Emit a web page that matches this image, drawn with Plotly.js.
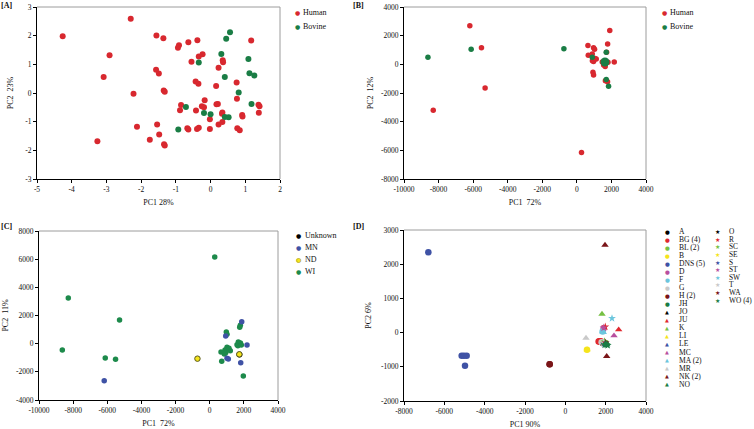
<!DOCTYPE html>
<html><head><meta charset="utf-8">
<script src="https://cdn.plot.ly/plotly-3.0.1.min.js"></script>
<style>html,body{margin:0;padding:0;background:#fff}#chart{width:754px;height:429px}</style>
</head><body><div id="chart"></div>
<script>
// ---------- Panel A ----------
const humanAX = [-4.26,-2.30,-2.91,-3.08,-2.22,-2.12,-3.26,-1.56,-1.36,-1.57,-1.49,-1.35,-1.32,-1.54,-1.48,-1.75,-1.34,-1.32,-0.91,-0.94,-0.64,-0.38,-0.55,-0.34,-0.23,-0.43,-0.35,-0.85,-0.88,-0.42,-0.17,-0.25,-0.19,-0.67,-0.64,-0.34,-0.39,-0.02,-0.02,0.23,0.16,0.17,0.21,0.34,0.23,0.35,0.36,0.34,0.33,0.75,0.76,0.77,0.84,0.91,0.92,1.17,1.38,1.41,1.39];
const humanAY = [1.98,2.59,1.32,0.56,-0.03,-1.18,-1.68,2.01,1.91,0.81,0.68,0.09,0.04,-1.10,-1.45,-1.63,-1.79,-1.83,1.67,1.58,1.77,1.84,1.09,1.27,1.35,0.40,0.32,-0.42,-0.60,-0.61,-0.25,-0.46,-0.50,-1.23,-1.27,-1.21,-1.26,-0.92,-1.26,0.88,0.24,-0.39,-0.38,-1.01,-1.10,1.14,1.07,-0.68,-0.72,0.37,-0.20,-1.23,-1.30,-0.77,-0.82,1.83,-0.41,-0.46,-0.69];
const bovineAX = [0.56,0.45,0.31,-0.34,1.09,1.12,1.26,0.41,0.81,1.18,-0.71,-0.19,0.00,0.41,0.52,-0.93];
const bovineAY = [2.12,1.89,1.36,1.06,1.19,0.69,0.61,0.56,0.02,-0.38,-0.49,-0.70,-0.74,-0.84,-0.85,-1.27];

// ---------- Panel B ----------
const humanBX = [-6192,-5519,-5308,-8308,269,1904,1780,642,966,1024,659,891,1122,966,900,1720,1469,1800,1640,2163,931,966,1776,1650,1050,1550];
const humanBY = [2696,1154,-1644,-3209,-6150,2364,1410,1319,1155,1056,629,728,373,202,250,850,160,150,-150,160,-552,-744,-1220,-1150,400,-50];
const bovineBX = [-8615,-6115,-750,891,1700,1600,1625,1650,1700,1834];
const bovineBY = [490,1060,1083,487,842,140,160,180,-1050,-1526];

// ---------- Panel C ----------
const unknownCX = [1740];
const unknownCY = [-770];
const mnCX = [-6179,1875,937,2185,1013,1089,1816];
const mnCY = [-2627,1558,543,-97,-1041,-1091,-1353];
const ndCX = [-719,1734];
const ndCY = [-1065,-757];
const wiCX = [294,-8284,-5282,-8635,-6120,-5516,1793,1757,973,1013,1675,1716,1599,1013,1089,896,937,1206,1130,662,856,703,1968,1800,1650,1850];
const wiCY = [6154,3243,1680,-450,-1018,-1112,1301,1158,827,663,116,-26,-75,-260,-402,-451,-644,-502,-331,-594,-736,-1254,-2298,50,-150,-100];

// ---------- Panel D ----------
const dCircleLabels = ['A','BG (4)','BL (2)','B','DNS (5)','D','F','G','H (2)','JH'];
const dCircleX = [[1900],[1650,1686,1720,1760],[1950,2000],[1074],[-6793,-5140,-5025,-4893,-4975],[1900],[1850],[1800],[-777,-777],[2000]];
const dCircleY = [[-300],[-260,-255,-270,-250],[-300,-320],[-499],[2347,-674,-674,-674,-967],[130],[30],[-280],[-928,-928],[-330]];
const dTriangleLabels = ['JO','JU','K','LI','LE','MC','MA (2)','MR','NK (2)','NO'];
const dTriangleX = [[1900],[2645],[1818],[1080],[1950],[2413],[1851,1880],[1025],[1967,2050],[2050]];
const dTriangleY = [[-330],[86],[544],[-500],[-310],[-90],[27,10],[-158],[2561,-694],[-350]];
const dStarLabels = ['O','R','SC','SE','S','ST','SW','T','WA','WO (4)'];
const dStarX = [[1950],[1980],[1950],[1900],[1920],[1900],[2314],[1900],[2000],[2050,2100,2000,1950]];
const dStarY = [[-280],[170],[-260],[-300],[-320],[140],[417],[-290],[-300],[-350,-370,-340,-360]];
const dColors = ['#000000','#e0282f','#76c043','#f5e41c','#3f52a5','#b84f9e','#6cc6dd','#c9c9c9','#7a1518','#1a7d45'];

// ---------- Ticks ----------
const aXTicks = [-5,-4,-3,-2,-1,0,1,2];
const aYTicks = [-3,-2,-1,0,1,2,3];
const bXTicks = [-10000,-8000,-6000,-4000,-2000,0,2000,4000];
const bYTicks = [-8000,-6000,-4000,-2000,0,2000,4000];
const cXTicks = [-10000,-8000,-6000,-4000,-2000,0,2000,4000];
const cYTicks = [-4000,-2000,0,2000,4000,6000,8000];
const dXTicks = [-8000,-6000,-4000,-2000,0,2000,4000];
const dYTicks = [-2000,-1000,0,1000,2000,3000];

const RED = '#d8282f', GREEN = '#1a7d45', BLUE = '#3f52a5', YELLOW = '#f5e41c';
const W = 754, H = 429;
const FONT = 'Liberation Serif, Times New Roman, serif';
const fx = p => p / W, fy = p => 1 - p / H;

const traces = [];
function pts(x, y, ax, color, size, symbol, line) {
  traces.push({type:'scatter', mode:'markers', x:x, y:y, xaxis:'x'+ax, yaxis:'y'+ax, showlegend:false,
    hoverinfo:'x+y', marker:{color:color, size:size, symbol:symbol||'circle', line:line||{width:0}}});
}
pts(humanAX, humanAY, '', RED, 6);
pts(bovineAX, bovineAY, '', GREEN, 6);
pts(humanBX, humanBY, '2', RED, 5.5);
pts(bovineBX, bovineBY, '2', GREEN, 5.5);
pts([bovineBX[6]], [bovineBY[6]], '2', GREEN, 9);
pts(unknownCX, unknownCY, '3', '#000', 6);
pts(wiCX, wiCY, '3', '#1d8a4b', 5.5);
pts(mnCX, mnCY, '3', BLUE, 5.5);
pts(ndCX, ndCY, '3', YELLOW, 5.5, 'circle', {color:'#5a5a20', width:1});
dCircleLabels.forEach((l,i)=>pts(dCircleX[i], dCircleY[i], '4', dColors[i], 6.5, 'circle'));
dTriangleLabels.forEach((l,i)=>pts(dTriangleX[i], dTriangleY[i], '4', dColors[i], 6.5, 'triangle-up'));
dStarLabels.forEach((l,i)=>pts(dStarX[i], dStarY[i], '4', dColors[i], 6, 'star'));

function axis(dom, anchor, ticks, title, standoff) {
  return {domain:dom, anchor:anchor, range:[ticks[0], ticks[ticks.length-1]], tickmode:'array',
    tickvals:ticks, ticktext:ticks.map(String), ticks:'outside', ticklen:3, tickcolor:'#000', tickwidth:1,
    showline:true, linecolor:'#000', linewidth:1, mirror:false, showgrid:false, zeroline:false,
    automargin:false, fixedrange:true,
    tickfont:{family:FONT, size:7.5, color:'#111'},
    title:{text:title, font:{family:FONT, size:8, color:'#111'}, standoff:standoff}};
}

const annotations = [];
function label(px, py, text, size, anchorX) {
  annotations.push({xref:'paper', yref:'paper', x:fx(px), y:fy(py), text:text, showarrow:false, borderpad:0,
    xanchor:anchorX||'left', yanchor:'middle', font:{family:FONT, size:size||8, color:'#111'}});
}
function sym(px, py, glyph, color, size) {
  annotations.push({xref:'paper', yref:'paper', x:fx(px), y:fy(py), text:glyph, showarrow:false, borderpad:0,
    xanchor:'center', yanchor:'middle', font:{family:'DejaVu Sans', size:size, color:color}});
}
// panel tags
label(0, 5, '<b>[A]</b>', 8); label(352, 5, '<b>[B]</b>', 8);
label(0, 227, '<b>[C]</b>', 8); label(352, 227, '<b>[D]</b>', 8);
// legends A & B
[['Human',RED],['Bovine',GREEN]].forEach((e,i)=>{
  sym(297, 12+i*15, '●', e[1], 6); label(302, 12+i*15, e[0]);
  sym(664, 12+i*15, '●', e[1], 6); label(669, 12+i*15, e[0]);
});
// legend C
[['Unknown','#000'],['MN',BLUE],['ND',YELLOW],['WI','#1d8a4b']].forEach((e,i)=>{
  const y = 235.3 + i*12.2;
  sym(298.3, y, '●', e[1], 6);
  if (e[0]==='ND') sym(298.3, y, '○', '#5a5a20', 6);
  label(304, y, e[0]);
});
// legend D
dCircleLabels.forEach((l,i)=>{ const y=231.7+i*8.02; sym(667, y, '●', dColors[i], 5.5); label(677.5, y, l, 7.6); });
dTriangleLabels.forEach((l,i)=>{ const y=231.7+(i+10)*8.02; sym(667, y, '▲', dColors[i], 5); label(677.5, y, l, 7.6); });
dStarLabels.forEach((l,i)=>{ const y=231.7+i*7.6; sym(717.7, y, '★', dColors[i], 6); label(727.5, y, l, 7.4); });

const shapes = [];
['', '2', '3', '4'].forEach(s=>{
  shapes.push({type:'line', xref:'x'+s+' domain', yref:'y'+s+' domain', x0:0, x1:1, y0:1, y1:1, line:{color:'#9c9c9c', width:1}});
  shapes.push({type:'line', xref:'x'+s+' domain', yref:'y'+s+' domain', x0:1, x1:1, y0:0, y1:1, line:{color:'#9c9c9c', width:1}});
});

const layout = {
  width:W, height:H, margin:{l:0, r:0, t:0, b:0}, paper_bgcolor:'#fff', plot_bgcolor:'#fff',
  showlegend:false, font:{family:FONT, size:8, color:'#111'},
  xaxis: axis([fx(37), fx(280)], 'y', aXTicks, 'PC1 28%', 6),
  yaxis: axis([fy(179), fy(7)], 'x', aYTicks, 'PC2  23%', 10),
  xaxis2: axis([fx(404), fx(646)], 'y2', bXTicks, 'PC1  72%', 6),
  yaxis2: axis([fy(179), fy(7)], 'x2', bYTicks, 'PC2  12%', 6),
  xaxis3: axis([fx(39), fx(278)], 'y3', cXTicks, 'PC1  72%', 6),
  yaxis3: axis([fy(400), fy(231)], 'x3', cYTicks, 'PC2  11%', 6),
  xaxis4: axis([fx(404), fx(646)], 'y4', dXTicks, 'PC1 90%', 6),
  yaxis4: axis([fy(401), fy(230)], 'x4', dYTicks, 'PC2 6%', 8),
  annotations:annotations, shapes:shapes
};
Plotly.newPlot('chart', traces, layout, {displayModeBar:false, staticPlot:true});
</script></body></html>
